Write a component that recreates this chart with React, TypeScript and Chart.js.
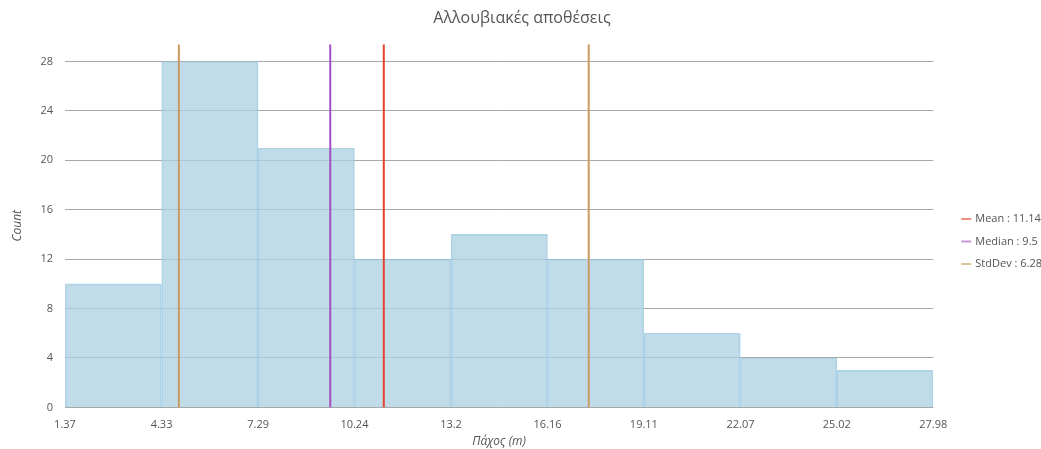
import React, { useEffect, useRef } from "react";
import { Chart, registerables } from "chart.js";

Chart.register(...registerables);

// Histogram bin edges (thickness in metres) and counts per bin
const binEdges = [1.37, 4.33, 7.29, 10.24, 13.2, 16.16, 19.11, 22.07, 25.02, 27.98];
const binCounts = [10, 28, 21, 12, 14, 12, 6, 4, 3];

// Summary statistics
const meanValue = 11.14;
const medianValue = 9.5;
const stdDevValue = 6.28;

const yTicks = [0, 4, 8, 12, 16, 20, 24, 28];
const yTop = 29.4;

const FONT = "'Open Sans', 'Noto Sans', sans-serif";

// Nudges the right-hand legend block away from the plot area
const legendShift = {
  id: "legendShift",
  afterLayout(chart: any) {
    const lg = chart.legend;
    if (!lg) return;
    lg.left += 18;
    lg.right += 18;
    lg.top += 17;
    lg.bottom += 17;
  },
};

const fade = (hex: string, a: number) => {
  const n = parseInt(hex.slice(1), 16);
  return `rgba(${(n >> 16) & 255},${(n >> 8) & 255},${n & 255},${a})`;
};

export default function App() {
  const canvasRef = useRef<HTMLCanvasElement | null>(null);

  useEffect(() => {
    if (!canvasRef.current) return;

    const barData = binCounts.map((c, i) => ({
      x: (binEdges[i] + binEdges[i + 1]) / 2,
      y: c,
    }));

    const vline = (x: number) => [
      { x, y: 0 },
      { x, y: yTop },
    ];

    const lineCommon = {
      type: "line" as const,
      borderWidth: 2,
      pointRadius: 0,
      fill: false,
      order: 0,
    };

    const chart = new Chart(canvasRef.current, {
      type: "bar",
      plugins: [legendShift],
      data: {
        datasets: [
          {
            ...lineCommon,
            label: `Mean : ${meanValue}`,
            data: vline(meanValue),
            borderColor: "#e2432d",
            backgroundColor: "#e2432d",
          } as any,
          {
            ...lineCommon,
            label: `Median : ${medianValue}`,
            data: vline(medianValue),
            borderColor: "#a24fc2",
            backgroundColor: "#a24fc2",
          } as any,
          {
            ...lineCommon,
            label: `StdDev : ${stdDevValue}`,
            data: vline(+(meanValue - stdDevValue).toFixed(2)),
            borderColor: "#c99a62",
            backgroundColor: "#c99a62",
          } as any,
          {
            ...lineCommon,
            label: "StdDev+",
            data: vline(+(meanValue + stdDevValue).toFixed(2)),
            borderColor: "#c99a62",
            backgroundColor: "#c99a62",
          } as any,
          {
            type: "bar",
            label: "Count",
            data: barData,
            backgroundColor: "rgba(172,208,226,0.75)",
            borderColor: "rgba(150,198,224,0.75)",
            borderWidth: 1,
            barPercentage: 1,
            categoryPercentage: 1,
            order: 1,
          } as any,
        ],
      },
      options: {
        animation: false,
        responsive: true,
        maintainAspectRatio: false,
        layout: { padding: { left: 10, right: 7, top: 0, bottom: 0 } },
        plugins: {
          tooltip: { enabled: false },
          title: {
            display: true,
            text: "Αλλουβιακές αποθέσεις",
            color: "#555",
            font: { family: FONT, size: 16, weight: "normal" },
            padding: { top: 9, bottom: 16 },
          },
          legend: {
            position: "right",
            labels: {
              usePointStyle: true,
              pointStyle: "line",
              boxWidth: 7,
              boxHeight: 7,
              padding: 11.5,
              color: "#555",
              font: { family: FONT, size: 11 },
              filter: (item: any) =>
                item.text !== "Count" && item.text !== "StdDev+",
              generateLabels: (ch: any) => {
                const items = Chart.defaults.plugins.legend.labels.generateLabels(ch);
                return items.map((it: any) => ({
                  ...it,
                  strokeStyle: fade(String(it.strokeStyle), 0.6),
                  fillStyle: fade(String(it.strokeStyle), 0.6),
                  lineWidth: 2,
                }));
              },
            },
          },
        },
        scales: {
          x: {
            type: "linear",
            min: binEdges[0],
            max: binEdges[binEdges.length - 1],
            offset: false,
            afterBuildTicks: (scale: any) => {
              scale.ticks = binEdges.map((v) => ({ value: v }));
            },
            ticks: {
              autoSkip: false,
              maxRotation: 0,
              color: "#555",
              font: { family: FONT, size: 11 },
              padding: 3,
              callback: (v: any) => String(v),
            },
            grid: { display: false },
            border: { display: false },
            title: {
              display: true,
              text: "Πάχος (m)",
              color: "#555",
              font: { family: FONT, size: 12, style: "italic" },
              padding: { top: 0, bottom: 0 },
            },
          },
          y: {
            type: "linear",
            min: 0,
            max: yTop,
            afterBuildTicks: (scale: any) => {
              scale.ticks = yTicks.map((v) => ({ value: v }));
            },
            ticks: {
              color: "#555",
              font: { family: FONT, size: 11 },
              padding: 12,
            },
            grid: {
              color: "#a8a8a8",
              drawTicks: false,
            },
            border: { display: false },
            title: {
              display: true,
              text: "Count",
              color: "#555",
              font: { family: FONT, size: 12, style: "italic" },
              padding: { top: 0, bottom: 4 },
            },
          },
        },
      },
    });

    return () => chart.destroy();
  }, []);

  return (
    <div style={{ position: "fixed", left: 0, top: 0, width: "100vw", height: "100vh", background: "#fff" }}>
      <canvas ref={canvasRef} />
    </div>
  );
}
